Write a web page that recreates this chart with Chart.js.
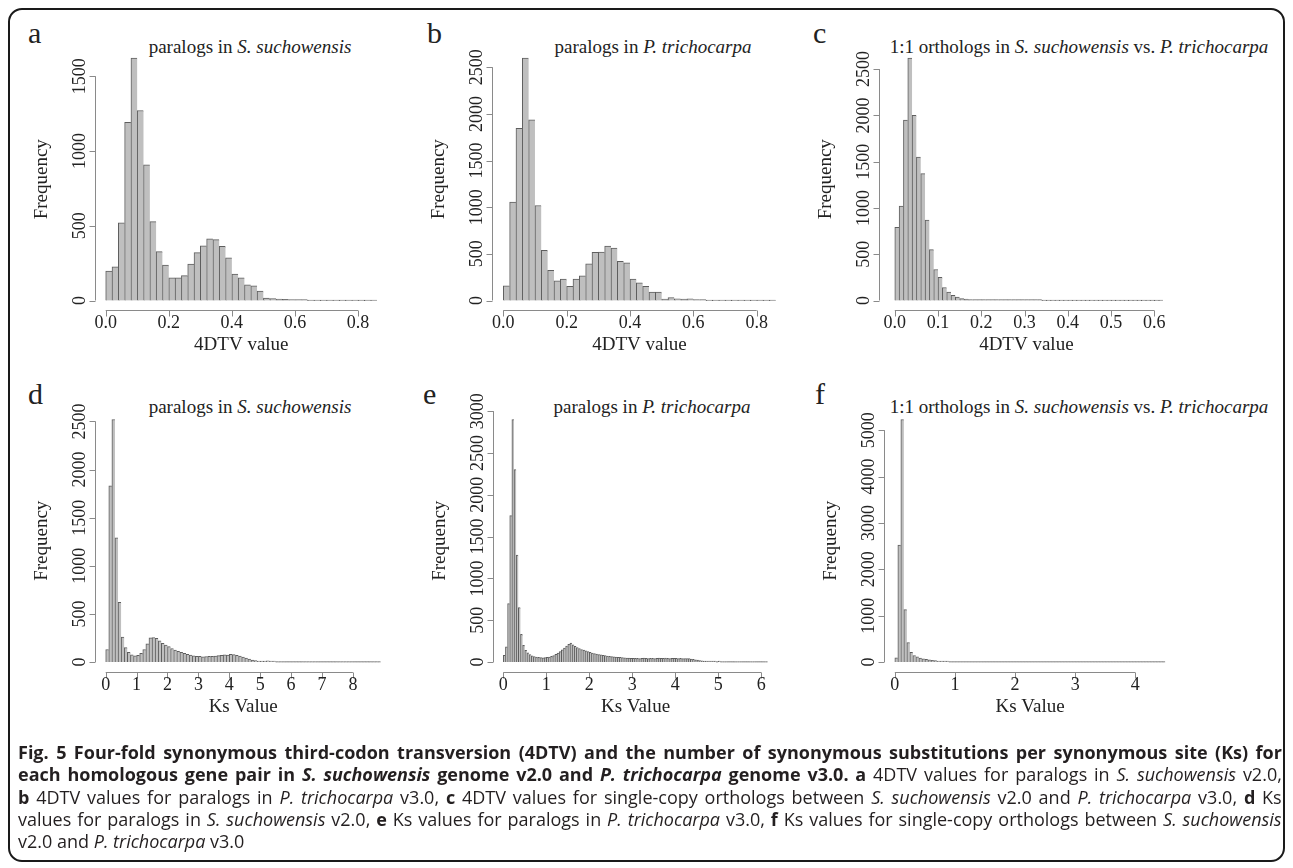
<!DOCTYPE html>
<html>
<head>
<meta charset="utf-8">
<script src="https://cdn.jsdelivr.net/npm/chart.js@4.4.0/dist/chart.umd.min.js"></script>
<style>
  body { margin: 0; background: #fff; width: 1293px; height: 868px; overflow: hidden; position: relative; font-family: "Liberation Serif", serif; color: #222; }
  canvas.panel { position: absolute; left: 0; top: 0; }
  .frame { position: absolute; left: 8px; top: 8px; width: 1273px; height: 850px; border: 2px solid #1a1a1a; border-radius: 14px; }
  .letter { position: absolute; font-size: 30px; line-height: 1; }
  .title { position: absolute; font-size: 19px; line-height: 1; white-space: nowrap; transform: translateX(-50%); }
  .cap { position: absolute; left: 18px; font-family: "Open Sans", sans-serif; font-size: 18px; line-height: 1; white-space: nowrap; color: #231f20; }
  .cap.just { display: flex; justify-content: space-between; width: 1264px; }
</style>
</head>
<body>
<div class="frame"></div>

<div class="letter" style="left:28px; top:18px">a</div>
<div class="letter" style="left:427px; top:18px">b</div>
<div class="letter" style="left:813px; top:18px">c</div>
<div class="letter" style="left:28px; top:379px">d</div>
<div class="letter" style="left:423px; top:379px">e</div>
<div class="letter" style="left:815px; top:379px">f</div>

<div class="title" style="left:250px; top:37px">paralogs in <i>S. suchowensis</i></div>
<div class="title" style="left:653px; top:37px">paralogs in <i>P. trichocarpa</i></div>
<div class="title" style="left:1079px; top:37px">1:1 orthologs in <i>S. suchowensis</i> vs. <i>P. trichocarpa</i></div>
<div class="title" style="left:250px; top:397px">paralogs in <i>S. suchowensis</i></div>
<div class="title" style="left:652px; top:397px">paralogs in <i>P. trichocarpa</i></div>
<div class="title" style="left:1079px; top:397px">1:1 orthologs in <i>S. suchowensis</i> vs. <i>P. trichocarpa</i></div>

<canvas class="panel" id="chartA" width="1293" height="868"></canvas>
<canvas class="panel" id="chartB" width="1293" height="868"></canvas>
<canvas class="panel" id="chartC" width="1293" height="868"></canvas>
<canvas class="panel" id="chartD" width="1293" height="868"></canvas>
<canvas class="panel" id="chartE" width="1293" height="868"></canvas>
<canvas class="panel" id="chartF" width="1293" height="868"></canvas>

<div class="cap just" style="top:743px"><b>Fig. 5 Four-fold synonymous third-codon transversion (4DTV) and the number of synonymous substitutions per synonymous site (Ks) for</b></div>
<div class="cap just" style="top:765px"><b>each homologous gene pair in <i>S. suchowensis</i> genome v2.0 and <i>P. trichocarpa</i> genome v3.0. a</b> 4DTV values for paralogs in <i>S. suchowensis</i> v2.0,</div>
<div class="cap just" style="top:788px"><b>b</b> 4DTV values for paralogs in <i>P. trichocarpa</i> v3.0, <b>c</b> 4DTV values for single-copy orthologs between <i>S. suchowensis</i> v2.0 and <i>P. trichocarpa</i> v3.0, <b>d</b> Ks</div>
<div class="cap just" style="top:810px">values for paralogs in <i>S. suchowensis</i> v2.0, <b>e</b> Ks values for paralogs in <i>P. trichocarpa</i> v3.0, <b>f</b> Ks values for single-copy orthologs between <i>S. suchowensis</i></div>
<div class="cap" style="top:832px">v2.0 and <i>P. trichocarpa</i> v3.0</div>

<script>
// bin counts (bins start at 0)
const aCounts = [197, 225, 519, 1192, 1622, 1271, 908, 528, 327, 237, 152, 152, 166, 244, 320, 365, 412, 407, 362, 286,
    177, 152, 105, 98, 63, 16, 13, 9, 7, 4, 2, 1, 0, 0, 0, 0, 0, 0, 0, 0, 0, 0, 0]
const bCounts = [158, 1054, 1846, 2599, 1935, 1018, 538, 323, 211, 229, 151, 229, 265, 394, 516, 520, 584, 563, 419, 405,
    229, 190, 151, 90, 90, 14, 32, 18, 14, 18, 7, 4, 0, 0, 0, 0, 0, 0, 0, 0, 0, 0, 0]
const cCounts = [790, 1020, 1950, 2620, 2000, 1550, 1370, 870, 550, 335, 250, 140, 90, 55, 36, 20, 14, 10, 8, 6,
    5, 4, 4, 3, 3, 2, 2, 2, 2, 1, 2, 1, 1, 1, 0, 0, 0, 0, 0, 0,
    0, 0, 0, 0, 0, 0, 0, 0, 0, 0, 0, 0, 0, 0, 0, 0, 0, 0, 0, 0, 0, 0]
const dCounts = [130, 1830, 2520, 1290, 620, 260, 150, 100, 75, 65, 70, 90, 130, 190, 250, 255, 245, 220, 195, 175,
    160, 140, 125, 110, 100, 90, 80, 72, 65, 60, 58, 55, 57, 60, 58, 62, 66, 70, 75, 72,
    80, 76, 70, 62, 50, 40, 30, 20, 14, 10, 8, 10, 12, 6, 3, 0, 0, 0, 0, 0,
    0, 0, 0, 0, 0, 0, 0, 0, 0, 0, 0, 0, 0, 0, 0, 0, 0, 0, 0, 0, 0, 0, 0, 0, 0, 0, 0, 0, 0]
const eCounts = [80, 180, 700, 1750, 2900, 2300, 1280, 650, 330, 200, 140, 110, 90, 75, 65, 58, 55, 52, 50, 52,
    55, 60, 68, 78, 92, 108, 125, 145, 165, 190, 212, 225, 205, 188, 172, 160, 150, 142, 133, 125,
    116, 108, 100, 95, 90, 85, 80, 76, 72, 68, 65, 62, 60, 57, 55, 53, 50, 48, 47, 45,
    44, 43, 45, 42, 44, 46, 43, 41, 44, 45, 42, 44, 46, 43, 45, 47, 44, 42, 45, 43,
    44, 41, 43, 40, 42, 41, 40, 36, 32, 27, 22, 17, 13, 10, 7, 5, 3, 2, 1, 0,
    3, 0, 0, 0, 0, 0, 0, 0, 0, 0, 0, 0, 0, 0, 0, 0, 0, 0, 0, 0, 0, 0, 0]
const fCounts = [90, 2520, 5230, 1130, 420, 210, 140, 110, 85, 70, 55, 45, 38, 30, 22, 15, 10, 5, 0, 0,
    0, 0, 0, 0, 0, 0, 0, 0, 0, 0, 0, 0, 0, 0, 0, 0, 0, 0, 0, 0,
    0, 0, 0, 0, 0, 0, 0, 0, 0, 0, 0, 0, 0, 0, 0, 0, 0, 0, 0, 0,
    0, 0, 0, 0, 0, 0, 0, 0, 0, 0, 0, 0, 0, 0, 0, 0, 0, 0, 0, 0,
    0, 0, 0, 0, 0, 0, 0, 0, 0, 0]

const binWidths = { a: 0.02, b: 0.02, c: 0.01, d: 0.1, e: 0.05, f: 0.05 }

// tick labels
const tdtvTicks = [0, 0.2, 0.4, 0.6, 0.8]
const orthoTdtvTicks = [0, 0.1, 0.2, 0.3, 0.4, 0.5, 0.6]
const dKsTicks = [0, 1, 2, 3, 4, 5, 6, 7, 8]
const eKsTicks = [0, 1, 2, 3, 4, 5, 6]
const fKsTicks = [0, 1, 2, 3, 4]
const aFreqTicks = [0, 500, 1000, 1500]
const bFreqTicks = [0, 500, 1000, 1500, 2000, 2500]
const cFreqTicks = [0, 500, 1000, 1500, 2000, 2500]
const dFreqTicks = [0, 500, 1000, 1500, 2000, 2500]
const eFreqTicks = [0, 500, 1000, 1500, 2000, 2500, 3000]
const fFreqTicks = [0, 1000, 2000, 3000, 4000, 5000]

// plot regions on the page (R style: 4% extension around the data)
let topRow = { top: 48.3, bottom: 310.2 }
let bottomRow = { top: 409.8, bottom: 671.7 }

let rAxes = {
    id: 'rAxes',
    afterDraw: (chart, args, opts) => {
        const ctx = chart.ctx
        const area = chart.chartArea
        const x = chart.scales.x
        const y = chart.scales.y
        const axisY = Math.round(area.bottom) + 0.5
        const axisX = Math.round(area.left) + 0.5
        ctx.save()
        ctx.strokeStyle = '#8a8a8a'
        ctx.lineWidth = 1
        ctx.beginPath()
        ctx.moveTo(x.getPixelForValue(opts.xTicks[0]), axisY)
        ctx.lineTo(x.getPixelForValue(opts.xTicks[opts.xTicks.length - 1]), axisY)
        for (let v of opts.xTicks) {
            let p = Math.round(x.getPixelForValue(v)) + 0.5
            ctx.moveTo(p, axisY)
            ctx.lineTo(p, axisY + 6)
        }
        ctx.moveTo(axisX, y.getPixelForValue(opts.yTicks[0]))
        ctx.lineTo(axisX, y.getPixelForValue(opts.yTicks[opts.yTicks.length - 1]))
        for (let v of opts.yTicks) {
            let p = Math.round(y.getPixelForValue(v)) + 0.5
            ctx.moveTo(axisX, p)
            ctx.lineTo(axisX - 6, p)
        }
        ctx.stroke()

        ctx.fillStyle = '#222'
        ctx.textAlign = 'center'
        ctx.textBaseline = 'middle'
        ctx.font = '18px "Liberation Serif"'
        for (let v of opts.xTicks) {
            ctx.fillText(opts.digits ? v.toFixed(opts.digits) : String(v), x.getPixelForValue(v), axisY + 13)
        }
        for (let v of opts.yTicks) {
            ctx.save()
            ctx.translate(axisX - 15, y.getPixelForValue(v))
            ctx.rotate(-Math.PI / 2)
            ctx.fillText(String(v), 0, 0)
            ctx.restore()
        }
        ctx.font = '19px "Liberation Serif"'
        ctx.fillText(opts.xTitle, (area.left + area.right) / 2, axisY + 35)
        ctx.save()
        ctx.translate(axisX - 53, (area.top + area.bottom) / 2)
        ctx.rotate(-Math.PI / 2)
        ctx.fillText('Frequency', 0, 0)
        ctx.restore()
        ctx.restore()
    }
}

let makeHist = (id, counts, binWidth, region, xTicks, yTicks, xTitle, digits) => {
    const peak = Math.max(...counts)
    return new Chart(document.getElementById(id), {
        type: 'bar',
        data: {
            datasets: [{
                data: counts.map((c, i) => ({ x: (i + 0.5) * binWidth, y: c })),
                backgroundColor: '#bfbfbf',
                borderColor: '#5e5e5e',
                borderWidth: { left: 1, top: 1, right: 0, bottom: 0 },
                borderSkipped: false,
                barPercentage: 1,
                categoryPercentage: 1,
                minBarLength: 1
            }]
        },
        options: {
            responsive: false,
            animation: false,
            layout: {
                padding: { left: region.left, right: 1293 - region.right, top: region.top, bottom: 868 - region.bottom }
            },
            plugins: {
                legend: { display: false },
                tooltip: { enabled: false },
                rAxes: { xTicks: xTicks, yTicks: yTicks, xTitle: xTitle, digits: digits }
            },
            scales: {
                x: {
                    type: 'linear', display: false, offset: false, min: region.xMin, max: region.xMax,
                    afterBuildTicks: axis => { axis.ticks = xTicks.map(v => ({ value: v })) }
                },
                y: { display: false, min: -0.04 * peak, max: 1.04 * peak }
            }
        },
        plugins: [rAxes]
    })
}

// wrap every word of a caption line in its own span (keeping bold / italic),
// so the flex row can spread the words over the full width
let splitWords = (line) => {
    const words = []
    let current = null
    const walk = (node, tags) => {
        if (node.nodeType === 3) {
            for (let part of node.textContent.split(/(\s+)/)) {
                if (part === '') continue
                if (/^\s+$/.test(part)) { current = null; continue }
                let el = document.createTextNode(part)
                for (let t of tags.slice().reverse()) {
                    const w = document.createElement(t)
                    w.appendChild(el)
                    el = w
                }
                if (!current) {
                    current = document.createElement('span')
                    words.push(current)
                }
                current.appendChild(el)
            }
        } else {
            for (let c of Array.from(node.childNodes)) walk(c, [...tags, node.tagName.toLowerCase()])
        }
    }
    for (let c of Array.from(line.childNodes)) walk(c, [])
    line.innerHTML = ''
    words.forEach(w => line.appendChild(w))
}

document.querySelectorAll('.cap.just').forEach(splitWords)

window.addEventListener("load", () => {
    makeHist('chartA', aCounts, binWidths.a, { ...topRow, left: 94.85, right: 387.8, xMin: -0.0344, xMax: 0.8944 }, tdtvTicks, aFreqTicks, '4DTV value', 1)
    makeHist('chartB', bCounts, binWidths.b, { ...topRow, left: 492.4, right: 786.6, xMin: -0.0344, xMax: 0.8944 }, tdtvTicks, bFreqTicks, '4DTV value', 1)
    makeHist('chartC', cCounts, binWidths.c, { ...topRow, left: 879, right: 1173.7, xMin: -0.0365, xMax: 0.6449 }, orthoTdtvTicks, cFreqTicks, '4DTV value', 1)
    makeHist('chartD', dCounts, binWidths.d, { ...bottomRow, left: 94.7, right: 391.7, xMin: -0.356, xMax: 9.256 }, dKsTicks, dFreqTicks, 'Ks Value', 0)
    makeHist('chartE', eCounts, binWidths.e, { ...bottomRow, left: 492.7, right: 778.3, xMin: -0.246, xMax: 6.396 }, eKsTicks, eFreqTicks, 'Ks Value', 0)
    makeHist('chartF', fCounts, binWidths.f, { ...bottomRow, left: 884, right: 1176.1, xMin: -0.18, xMax: 4.68 }, fKsTicks, fFreqTicks, 'Ks Value', 0)
})
</script>
</body>
</html>
